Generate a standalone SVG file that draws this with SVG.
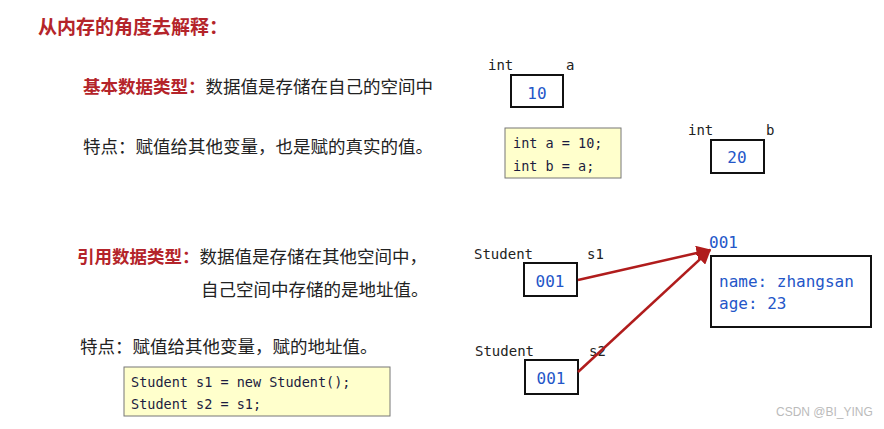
<svg xmlns="http://www.w3.org/2000/svg" width="884" height="429" viewBox="0 0 884 429">
<defs>
<style>
.cn{font-family:"Noto Sans CJK SC","Noto Sans",sans-serif;font-size:17.5px;fill:#222}
.red{fill:#b4242a;font-weight:bold}
.mono{font-family:"DejaVu Sans Mono","Liberation Mono",monospace}
.lbl{font-size:14px;fill:#222}
.val{font-size:16px;fill:#2456c8}
.code{font-size:13.5px;fill:#1c1c40}
.box{fill:#fff;stroke:#111;stroke-width:2}
.cbox{fill:#ffffcc;stroke:#777;stroke-width:1}
.conn{stroke:#b01c1c;stroke-width:2.5;fill:none}
</style>
<marker id="ah" viewBox="0 0 10 10" refX="9" refY="5" markerWidth="6" markerHeight="6" orient="auto" markerUnits="strokeWidth">
<path d="M0,0 L10,5 L0,10 z" fill="#b01c1c"/>
</marker>
</defs>
<rect width="884" height="429" fill="#fff"/>
<text x="38" y="34" class="cn red" style="font-size:19px">从内存的角度去解释：</text>

<g id="primitive-desc">
<text x="83" y="93" class="cn"><tspan class="red">基本数据类型：</tspan>数据值是存储在自己的空间中</text>
<text x="83" y="153" class="cn">特点：赋值给其他变量，也是赋的真实的值。</text>
</g>

<g id="var-a">
<text x="488" y="70" class="mono lbl">int</text>
<text x="566" y="70" class="mono lbl">a</text>
<rect x="511" y="75" width="52" height="32" class="box"/>
<text x="537" y="99" class="mono val" text-anchor="middle">10</text>
</g>

<g id="code-int">
<rect x="505" y="128" width="116" height="50" class="cbox"/>
<text x="513" y="148" class="mono code">int a = 10;</text>
<text x="513" y="171" class="mono code">int b = a;</text>
</g>

<g id="var-b">
<text x="688" y="135" class="mono lbl">int</text>
<text x="766" y="135" class="mono lbl">b</text>
<rect x="711" y="140" width="53" height="33" class="box"/>
<text x="737" y="163" class="mono val" text-anchor="middle">20</text>
</g>

<g id="reference-desc">
<text x="77" y="263" class="cn"><tspan class="red">引用数据类型：</tspan>数据值是存储在其他空间中，</text>
<text x="201" y="296" class="cn">自己空间中存储的是地址值。</text>
<text x="80" y="353" class="cn">特点：赋值给其他变量，赋的地址值。</text>
</g>

<g id="code-student">
<rect x="124" y="367" width="266" height="49" class="cbox"/>
<text x="131" y="387" class="mono code">Student s1 = new Student();</text>
<text x="131" y="409" class="mono code">Student s2 = s1;</text>
</g>

<g id="var-s1">
<text x="474" y="259" class="mono lbl">Student</text>
<text x="587" y="259" class="mono lbl">s1</text>
<rect x="524" y="263" width="53" height="33" class="box"/>
<text x="550" y="287" class="mono val" text-anchor="middle">001</text>
</g>

<g id="var-s2">
<text x="475" y="356" class="mono lbl">Student</text>
<text x="589" y="356" class="mono lbl">s2</text>
<rect x="525" y="360" width="53" height="34" class="box"/>
<text x="551" y="384" class="mono val" text-anchor="middle">001</text>
</g>

<g id="object">
<text x="709" y="248" class="mono val">001</text>
<rect x="711" y="256" width="160" height="71" class="box"/>
<text x="719" y="287" class="mono val">name: zhangsan</text>
<text x="719" y="309" class="mono val">age: 23</text>
</g>

<g id="connectors">
<line x1="578" y1="280" x2="710" y2="250" class="conn" marker-end="url(#ah)"/>
<line x1="578" y1="372" x2="710" y2="250" class="conn" marker-end="url(#ah)"/>
</g>

<text x="776" y="416" font-family="Liberation Sans, sans-serif" font-size="12" fill="#bbb">CSDN @BI_YING</text>
</svg>
